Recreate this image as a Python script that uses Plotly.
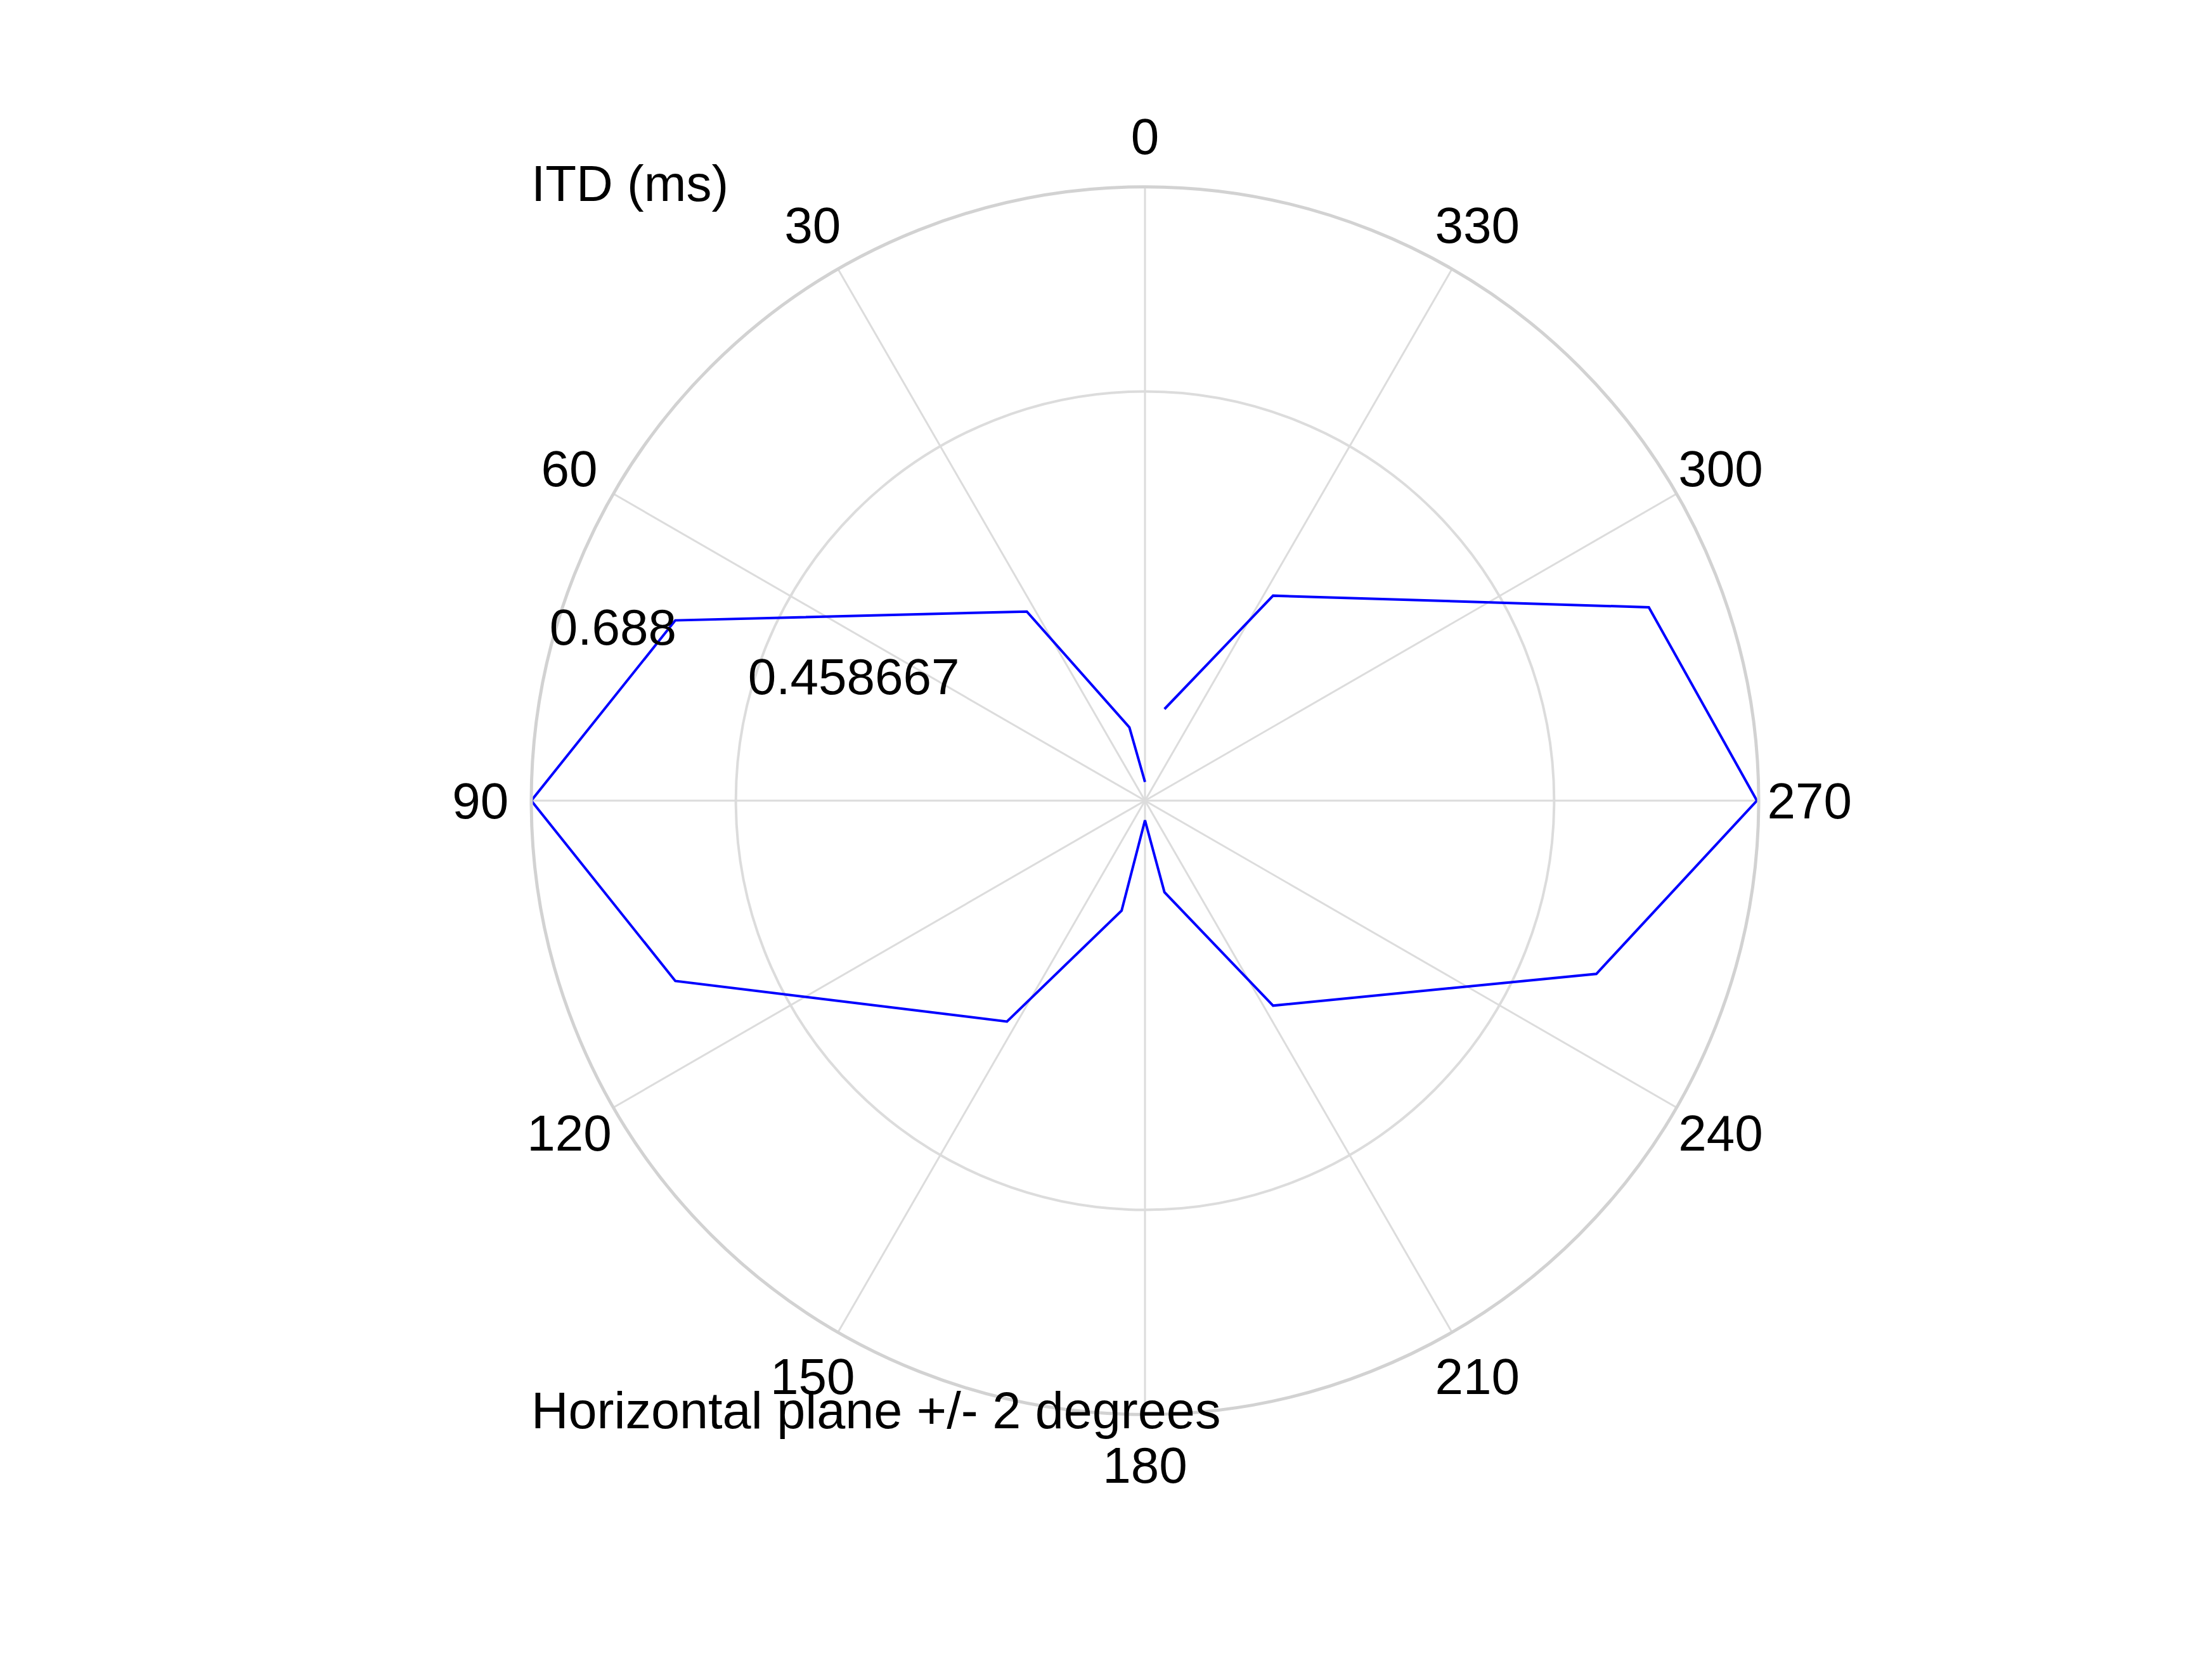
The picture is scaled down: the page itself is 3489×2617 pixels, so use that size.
import plotly.graph_objects as go

# Azimuth (degrees) and ITD (ms)
azimuth = [0, 12, 32, 69, 90, 111, 148, 168, 180, 192, 212, 249, 270, 291, 328, 348]
itd_ms = [0.021, 0.084, 0.250, 0.564, 0.688, 0.564, 0.292, 0.126, 0.022,
          0.105, 0.271, 0.542, 0.686, 0.605, 0.271, 0.105]

angular_ticks = [0, 30, 60, 90, 120, 150, 180, 210, 240, 270, 300, 330]
angular_labels = [str(t) for t in angular_ticks]
radial_ticks = [0.458667, 0.688]
radial_labels = ["0.458667", "0.688"]

FONT = "Liberation Sans, Arial, sans-serif"
W, H = 3489, 2617
R_MAX = radial_ticks[-1]

# polar geometry (pixels)
CX, CY, RAD = 1798, 1255, 968
LABEL_FACTOR = 1.083  # angular labels centred just outside the outer circle
OUTER_FACTOR = 1.15   # helper subplot (same scale) that holds the tick labels
RAD2 = RAD * OUTER_FACTOR
LABEL_DY = 8          # text baseline correction for the helper subplot
RADIAL_LABEL_ANGLE = 76

def dom(cx, cy, rad):
    return dict(x=[(cx - rad) / W, (cx + rad) / W],
                y=[1 - (cy + rad) / H, 1 - (cy - rad) / H])

fig = go.Figure()
fig.add_trace(go.Scatterpolar(
    r=itd_ms, theta=azimuth, mode="lines",
    line=dict(color="#0000ff", width=4),
    showlegend=False, hoverinfo="skip", subplot="polar",
))
# radial tick labels (helper subplot shares centre and scale, so r is the same)
fig.add_trace(go.Scatterpolar(
    r=radial_ticks, theta=[RADIAL_LABEL_ANGLE] * len(radial_ticks), mode="text",
    text=radial_labels, textposition="top right",
    textfont=dict(family=FONT, size=80, color="black"),
    cliponaxis=False, showlegend=False, hoverinfo="skip", subplot="polar2",
))
# angular tick labels
fig.add_trace(go.Scatterpolar(
    r=[R_MAX * LABEL_FACTOR] * len(angular_ticks), theta=angular_ticks, mode="text",
    text=angular_labels, textposition="middle center",
    textfont=dict(family=FONT, size=80, color="black"),
    cliponaxis=False, showlegend=False, hoverinfo="skip", subplot="polar2",
))

hidden_ang = dict(rotation=90, direction="counterclockwise", showgrid=False,
                  showline=False, showticklabels=False, ticks="")
fig.update_layout(
    width=W, height=H,
    margin=dict(l=0, r=0, t=0, b=0),
    paper_bgcolor="white",
    font=dict(family=FONT, size=80, color="black"),
    polar=dict(
        domain=dom(CX, CY, RAD),
        bgcolor="white",
        angularaxis=dict(
            rotation=90, direction="counterclockwise",
            tickmode="array", tickvals=angular_ticks,
            showticklabels=False, ticks="",
            showgrid=True, gridcolor="#dcdcdc", gridwidth=3,
            showline=True, linecolor="#d2d2d2", linewidth=5,
        ),
        radialaxis=dict(
            range=[0, R_MAX],
            tickmode="array", tickvals=radial_ticks,
            showticklabels=False,
            showgrid=True, gridcolor="#dcdcdc", gridwidth=4,
            showline=False, ticks="",
        ),
    ),
    polar2=dict(
        domain=dom(CX, CY + LABEL_DY, RAD2),
        bgcolor="rgba(0,0,0,0)",
        angularaxis=hidden_ang,
        radialaxis=dict(range=[0, R_MAX * OUTER_FACTOR], visible=False),
    ),
    annotations=[
        dict(text="ITD (ms)", x=828 / W, y=1 - 281 / H, xref="paper", yref="paper",
             xanchor="left", yanchor="middle", showarrow=False,
             font=dict(family=FONT, size=80, color="black")),
        dict(text="Horizontal plane +/- 2 degrees", x=828 / W, y=1 - 2217 / H,
             xref="paper", yref="paper", xanchor="left", yanchor="middle",
             showarrow=False, font=dict(family=FONT, size=81, color="black")),
    ],
)

fig.write_html("out.html")
